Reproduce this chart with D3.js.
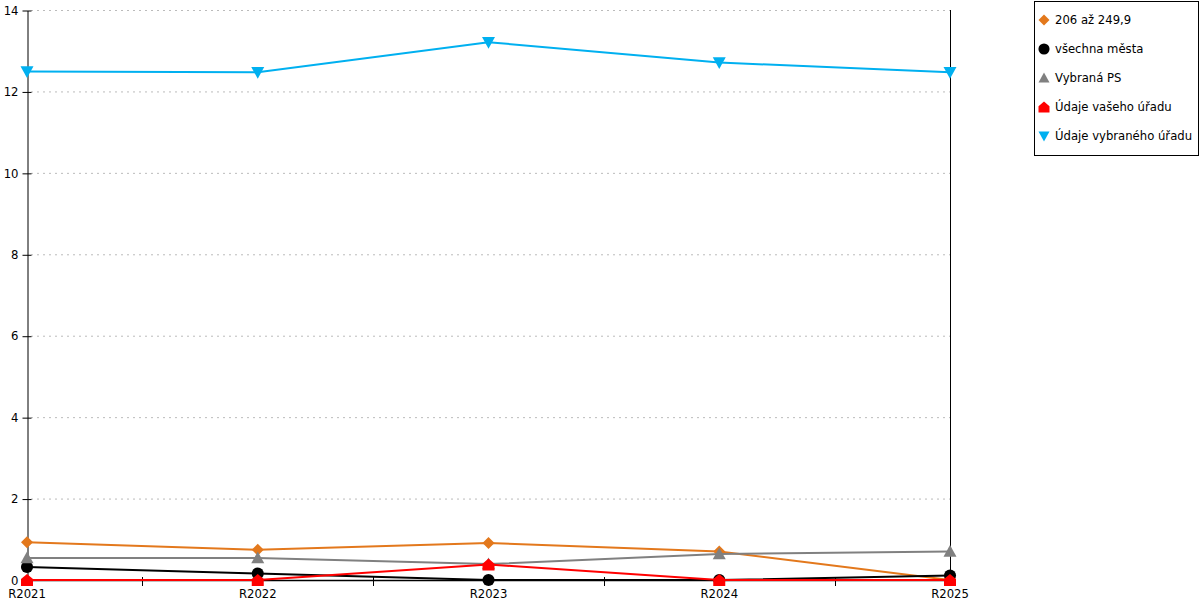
<!DOCTYPE html>
<html>
<head>
<meta charset="utf-8">
<script src="https://cdn.jsdelivr.net/npm/d3@7"></script>
<style>
  body { margin: 0; background: #fff; }
  svg { font-family: "DejaVu Sans", sans-serif; font-size: 11.65px; }
</style>
</head>
<body>
<svg id="chart" width="1200" height="600"></svg>
<script>
const categories = ["R2021", "R2022", "R2023", "R2024", "R2025"];
const yTicks = [0, 2, 4, 6, 8, 10, 12, 14];

const seriesNames = ["206 až 249,9", "všechna města", "Vybraná PS", "Údaje vašeho úřadu", "Údaje vybraného úřadu"];
const valuesOrange = [0.93, 0.74, 0.91, 0.70, 0.0];
const valuesBlack = [0.32, 0.16, 0.0, 0.0, 0.11];
const valuesGray = [0.54, 0.54, 0.39, 0.64, 0.70];
const valuesRed = [0.0, 0.0, 0.38, 0.0, 0.0];
const valuesBlue = [12.49, 12.47, 13.21, 12.71, 12.47];

const colors = ["#e3781c", "#000000", "#808080", "#ff0000", "#00b0f0"];
const shapes = ["diamond", "circle", "triangleUp", "house", "triangleDown"];
const allValues = [valuesOrange, valuesBlack, valuesGray, valuesRed, valuesBlue];

const svg = d3.select("#chart");
const plotLeft = 27, plotRight = 950, plotTop = 10, plotBottom = 580;

const x = d3.scalePoint().domain(categories).range([plotLeft, plotRight]);
const y = d3.scaleLinear().domain([0, 14]).range([plotBottom, plotTop]);

// grid
svg.append("g")
  .selectAll("line")
  .data(yTicks.slice(1))
  .enter().append("line")
    .attr("x1", plotLeft + 4).attr("x2", plotRight)
    .attr("y1", d => y(d) + 0.5).attr("y2", d => y(d) + 0.5)
    .attr("stroke", "#bbb")
    .attr("stroke-dasharray", "2,4");

// y axis
const yAxis = svg.append("g").attr("transform", "translate(" + (plotLeft + 0.5) + ",0.5)")
  .call(d3.axisLeft(y).tickValues(yTicks).tickSize(5).tickSizeOuter(0));
yAxis.select(".domain").attr("stroke", "#000");
yAxis.selectAll(".tick line").attr("x2", 4).attr("x1", -5);
yAxis.selectAll(".tick text").attr("x", -9).attr("font-family", "DejaVu Sans").attr("font-size", 11.65).attr("fill", "#000");

// right border line
svg.append("line")
  .attr("x1", plotRight + 0.5).attr("x2", plotRight + 0.5)
  .attr("y1", plotTop).attr("y2", plotBottom + 4)
  .attr("stroke", "#000");

// x axis
svg.append("line")
  .attr("x1", plotLeft).attr("x2", plotRight)
  .attr("y1", plotBottom + 0.5).attr("y2", plotBottom + 0.5)
  .attr("stroke", "#000").attr("stroke-width", 1.5);

const mids = categories.slice(1).map((c, i) => (x(categories[i]) + x(c)) / 2);
svg.append("g").selectAll("line")
  .data(mids)
  .enter().append("line")
    .attr("x1", d => Math.round(d) + 0.5).attr("x2", d => Math.round(d) + 0.5)
    .attr("y1", plotBottom - 3).attr("y2", plotBottom + 6)
    .attr("stroke", "#000");

svg.append("g").selectAll("text")
  .data(categories)
  .enter().append("text")
    .attr("x", d => x(d))
    .attr("y", 598)
    .attr("text-anchor", "middle")
    .attr("fill", "#000")
    .text(d => d);

function markerPath(shape, s) {
  if (shape === "diamond") return "M0," + (-s) + "L" + s + ",0L0," + s + "L" + (-s) + ",0Z";
  if (shape === "circle") return d3.symbol().type(d3.symbolCircle).size(s * s * 3.2)();
  if (shape === "triangleUp") return "M0," + (-s) + "L" + s + "," + (s * 0.8) + "L" + (-s) + "," + (s * 0.8) + "Z";
  if (shape === "triangleDown") return "M" + (-s) + "," + (-s * 0.8) + "L" + s + "," + (-s * 0.8) + "L0," + s + "Z";
  if (shape === "house") return "M0," + (-s) + "L" + s + "," + (-s * 0.15) + "L" + s + "," + s + "L" + (-s) + "," + s + "L" + (-s) + "," + (-s * 0.15) + "Z";
}
const markerSize = [6, 6, 6.5, 6, 6.5];

const line = d3.line().x((d, i) => x(categories[i])).y(d => y(d));

allValues.forEach((vals, k) => {
  const g = svg.append("g");
  g.append("path")
    .datum(vals)
    .attr("fill", "none")
    .attr("stroke", colors[k])
    .attr("stroke-width", 2)
    .attr("d", line);
  g.selectAll("path.m")
    .data(vals)
    .enter().append("path")
      .attr("class", "m")
      .attr("transform", (d, i) => "translate(" + x(categories[i]) + "," + y(d) + ")")
      .attr("d", markerPath(shapes[k], markerSize[k]))
      .attr("fill", colors[k]);
});

// legend
const legend = svg.append("g");
legend.append("rect")
  .attr("x", 1034.5).attr("y", 1.5)
  .attr("width", 164).attr("height", 154)
  .attr("fill", "#fff").attr("stroke", "#000");

const items = legend.selectAll("g.item")
  .data(seriesNames)
  .enter().append("g")
    .attr("class", "item")
    .attr("transform", (d, i) => "translate(1044," + (20 + i * 29) + ")");
items.append("path")
  .attr("d", (d, i) => markerPath(shapes[i], 5.5))
  .attr("fill", (d, i) => colors[i]);
items.append("text")
  .attr("x", 11)
  .attr("y", 4)
  .attr("fill", "#000")
  .text(d => d);
</script>
</body>
</html>
